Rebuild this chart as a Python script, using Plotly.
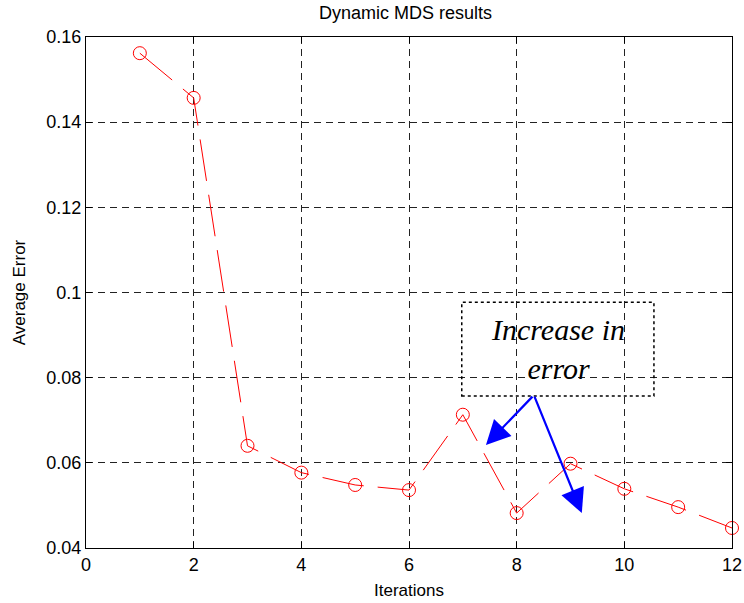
import plotly.graph_objects as go

# Average error after each iteration of the dynamic MDS run
iterations = [1, 2, 3, 4, 5, 6, 7, 8, 9, 10, 11, 12]
avg_error = [0.1562, 0.1457, 0.0640, 0.0577, 0.0548, 0.0536,
             0.0713, 0.0482, 0.0598, 0.0539, 0.0496, 0.0447]

x_ticks = [0, 2, 4, 6, 8, 10, 12]
y_ticks = [0.04, 0.06, 0.08, 0.1, 0.12, 0.14, 0.16]
y_tick_text = ["0.04", "0.06", "0.08", "0.1", "0.12", "0.14", "0.16"]

note_lines = ["Increase in", "error"]
# arrow tail (under the note) and the two heads it points to
arrow_tail = (8.32, 0.0759)
arrow_heads = [(7.43, 0.0642), (9.21, 0.0482)]
note_box = dict(x0=6.98, x1=10.55, y0=0.0757, y1=0.0977)

SANS = "Liberation Sans, Arial"

fig = go.Figure()
fig.add_trace(go.Scatter(
    x=iterations, y=avg_error, mode="lines+markers",
    line=dict(color="#ff0000", width=1, dash="42px,14px"),
    marker=dict(symbol="circle-open", size=13, color="#ff0000",
                line=dict(width=1, color="#ff0000")),
    showlegend=False, cliponaxis=False,
))

axis_common = dict(
    showline=True, linecolor="black", linewidth=1, mirror="ticks",
    ticks="inside", ticklen=6, tickcolor="black",
    showgrid=True, gridcolor="#222222", gridwidth=1, griddash="7px,5px",
    zeroline=False, ticklabeloverflow="allow", automargin=False,
    tickfont=dict(family=SANS, size=18, color="black"),
)

fig.update_xaxes(range=[0, 12], tickvals=x_ticks,
                 title=dict(text="Iterations", standoff=10,
                            font=dict(family=SANS, size=17, color="black")),
                 **axis_common)
fig.update_yaxes(range=[0.04, 0.16], tickvals=y_ticks, ticktext=y_tick_text,
                 title=dict(text="Average Error", standoff=16,
                            font=dict(family=SANS, size=17, color="black")),
                 **axis_common)

fig.add_shape(type="rect", xref="x", yref="y", **note_box,
              line=dict(color="black", width=1.5, dash="dot"), fillcolor="rgba(0,0,0,0)")

fig.add_annotation(
    x=(note_box["x0"] + note_box["x1"]) / 2, y=(note_box["y0"] + note_box["y1"]) / 2,
    xref="x", yref="y", showarrow=False,
    text="<br>".join(note_lines), align="center",
    font=dict(family="Liberation Serif, Times New Roman", size=30, color="black", style="italic"),
)

for hx, hy in arrow_heads:
    fig.add_annotation(
        x=hx, y=hy, ax=arrow_tail[0], ay=arrow_tail[1],
        xref="x", yref="y", axref="x", ayref="y",
        text="", showarrow=True, arrowhead=2, arrowsize=2.2, arrowwidth=2.2,
        arrowcolor="#0000ff",
    )

fig.update_layout(
    width=744, height=603,
    margin=dict(l=86, r=12, t=37, b=55),
    paper_bgcolor="white", plot_bgcolor="white",
    title=dict(text="Dynamic MDS results", x=0.545, xanchor="center", y=0.99, yanchor="top",
               font=dict(family=SANS, size=18, color="black")),
)

fig.write_html("out.html")
